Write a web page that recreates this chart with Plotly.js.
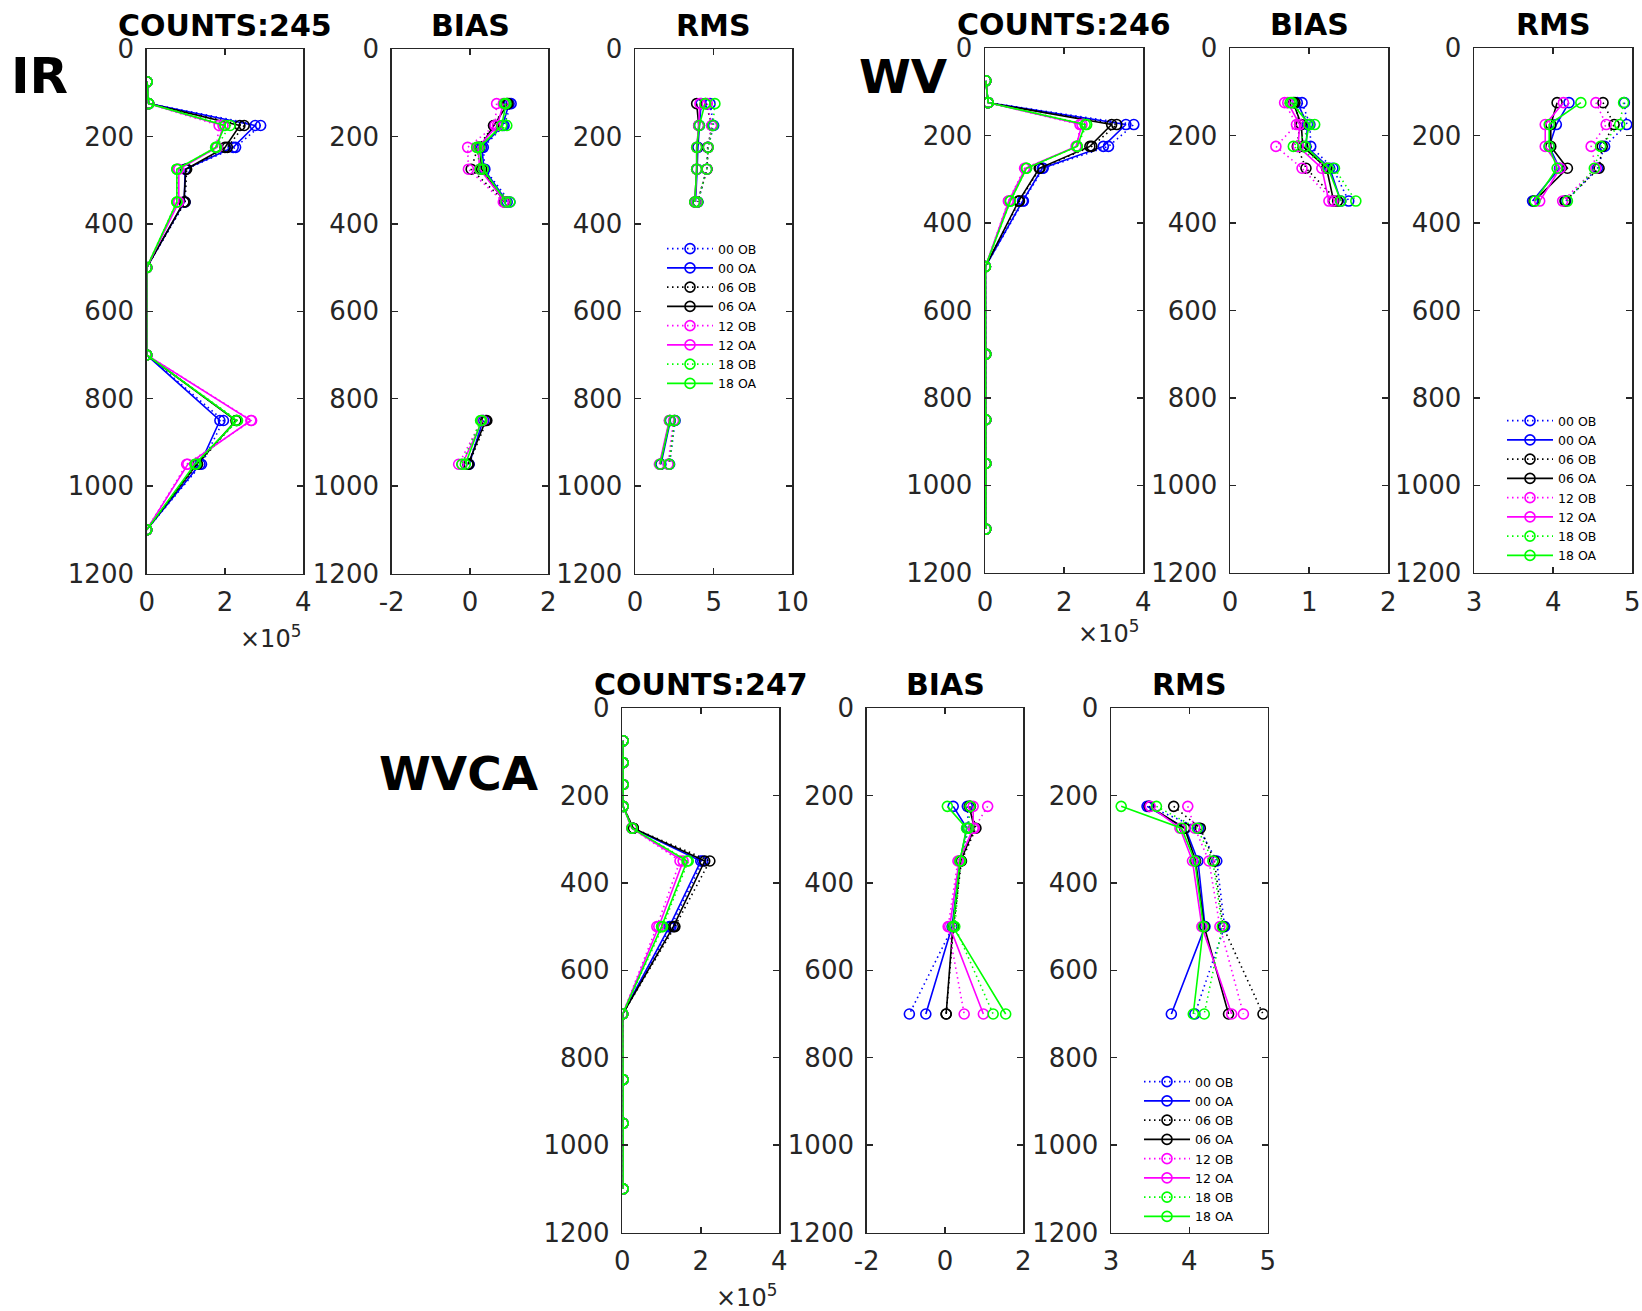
<!DOCTYPE html>
<html><head><meta charset="utf-8">
<script src="https://cdn.plot.ly/plotly-3.0.1.min.js"></script>
<style>html,body{margin:0;padding:0;background:#fff}</style>
</head><body><div id="chart" style="width:1642px;height:1311px"></div>
<script>
const n = null;
// pressure levels (hPa)
const LEVELS = [75,125,175,225,275,350,500,700,850,950,1100];
const SERIES = ["00 OB","00 OA","06 OB","06 OA","12 OB","12 OA","18 OB","18 OA"];

// ---- IR ---- (counts in units of 1e5)
const IR_COUNTS = [
 [0.01,0.05,2.91,2.27,1.00,0.98,0,0,1.96,1.40,0],
 [0.01,0.05,2.77,2.21,0.98,0.96,0,0,1.87,1.36,0],
 [0.01,0.05,2.49,2.06,1.02,0.98,0,0,2.30,1.30,0],
 [0.01,0.05,2.38,2.00,1.00,0.95,0,0,2.28,1.28,0],
 [0.01,0.05,1.85,1.78,0.80,0.80,0,0,2.68,1.02,0],
 [0.01,0.05,1.95,1.80,0.82,0.82,0,0,2.66,1.05,0],
 [0.01,0.05,2.13,1.78,0.77,0.77,0,0,2.32,1.26,0],
 [0.01,0.05,2.00,1.76,0.77,0.77,0,0,2.30,1.23,0]
];
const IR_BIAS = [
 [n,1.05,0.87,0.34,0.38,1.02,n,n,0.35,-0.05,n],
 [n,1.00,0.83,0.30,0.36,0.95,n,n,0.33,-0.02,n],
 [n,0.94,0.60,0.20,0.03,0.90,n,n,0.43,-0.03,n],
 [n,0.97,0.62,0.25,0.30,0.88,n,n,0.40,-0.05,n],
 [n,0.68,0.64,-0.06,-0.04,0.85,n,n,0.30,-0.29,n],
 [n,0.85,0.70,0.20,0.25,0.90,n,n,0.32,-0.20,n],
 [n,0.88,0.94,0.17,0.26,1.02,n,n,0.27,-0.21,n],
 [n,0.92,0.81,0.24,0.34,0.92,n,n,0.30,-0.12,n]
];
const IR_RMS = [
 [n,4.77,5.00,4.65,4.56,4.00,n,n,2.55,2.20,n],
 [n,4.20,4.10,4.00,3.95,3.85,n,n,2.25,1.65,n],
 [n,4.50,4.90,4.62,4.58,3.98,n,n,2.50,2.15,n],
 [n,3.92,4.05,3.95,3.92,3.80,n,n,2.20,1.60,n],
 [n,4.60,4.87,4.66,4.56,3.95,n,n,2.45,2.10,n],
 [n,4.13,4.05,3.92,3.92,3.82,n,n,2.18,1.55,n],
 [n,5.08,4.95,4.66,4.56,3.98,n,n,2.52,2.18,n],
 [n,4.45,4.09,3.92,3.92,3.80,n,n,2.22,1.60,n]
];

// ---- WV ----
const WV_COUNTS = [
 [0.02,0.08,3.76,3.12,1.47,0.97,0.01,0.02,0.02,0.02,0.02],
 [0.02,0.08,3.56,2.99,1.45,0.95,0.01,0.02,0.02,0.02,0.02],
 [0.02,0.08,3.33,2.70,1.39,0.87,0.01,0.02,0.02,0.02,0.02],
 [0.02,0.08,3.20,2.65,1.37,0.85,0.01,0.02,0.02,0.02,0.02],
 [0.02,0.08,2.40,2.33,1.00,0.59,0.01,0.02,0.02,0.02,0.02],
 [0.02,0.08,2.45,2.30,1.02,0.60,0.01,0.02,0.02,0.02,0.02],
 [0.02,0.08,2.57,2.33,1.05,0.64,0.01,0.02,0.02,0.02,0.02],
 [0.02,0.08,2.53,2.33,1.05,0.64,0.01,0.02,0.02,0.02,0.02]
];
const WV_BIAS = [
 [n,0.91,1.01,1.02,1.30,1.50,n,n,n,n,n],
 [n,0.85,0.98,0.96,1.26,1.40,n,n,n,n,n],
 [n,0.82,0.88,0.85,0.96,1.36,n,n,n,n,n],
 [n,0.80,0.90,0.92,1.22,1.31,n,n,n,n,n],
 [n,0.69,0.84,0.58,0.91,1.30,n,n,n,n,n],
 [n,0.73,0.88,0.86,1.16,1.25,n,n,n,n,n],
 [n,0.76,1.07,0.80,1.32,1.59,n,n,n,n,n],
 [n,0.78,1.00,0.95,1.24,1.40,n,n,n,n,n]
];
const WV_RMS = [
 [n,4.90,4.93,4.65,4.56,4.16,n,n,n,n,n],
 [n,4.20,4.04,3.95,4.08,3.74,n,n,n,n,n],
 [n,4.63,4.77,4.62,4.58,4.15,n,n,n,n,n],
 [n,4.05,3.97,3.97,4.18,3.76,n,n,n,n,n],
 [n,4.54,4.67,4.48,4.54,4.12,n,n,n,n,n],
 [n,4.13,3.90,3.90,4.09,3.83,n,n,n,n,n],
 [n,4.89,4.84,4.60,4.52,4.18,n,n,n,n,n],
 [n,4.35,3.95,3.95,4.05,3.77,n,n,n,n,n]
];

// ---- WVCA ----
const WVCA_COUNTS = [
 [0.02,0.02,0.02,0.02,0.26,2.05,1.24,0.01,0.02,0.02,0.02],
 [0.02,0.02,0.02,0.02,0.26,2.00,1.20,0.01,0.02,0.02,0.02],
 [0.02,0.02,0.02,0.02,0.28,2.23,1.34,0.01,0.02,0.02,0.02],
 [0.02,0.02,0.02,0.02,0.28,2.10,1.30,0.01,0.02,0.02,0.02],
 [0.02,0.02,0.02,0.02,0.24,1.47,0.88,0.01,0.02,0.02,0.02],
 [0.02,0.02,0.02,0.02,0.24,1.55,0.93,0.01,0.02,0.02,0.02],
 [0.02,0.02,0.02,0.02,0.25,1.68,1.03,0.01,0.02,0.02,0.02],
 [0.02,0.02,0.02,0.02,0.25,1.65,1.00,0.01,0.02,0.02,0.02]
];
const WVCA_BIAS = [
 [n,n,n,0.57,0.60,0.40,0.20,-0.91,n,n,n],
 [n,n,n,0.21,0.56,0.38,0.18,-0.49,n,n,n],
 [n,n,n,0.65,0.79,0.42,0.22,0.03,n,n,n],
 [n,n,n,0.62,0.75,0.40,0.20,0.03,n,n,n],
 [n,n,n,1.09,0.75,0.33,0.08,0.49,n,n,n],
 [n,n,n,0.72,0.72,0.36,0.12,0.98,n,n,n],
 [n,n,n,0.64,0.60,0.40,0.25,1.23,n,n,n],
 [n,n,n,0.06,0.55,0.38,0.20,1.55,n,n,n]
];
const WVCA_RMS = [
 [n,n,n,3.48,4.12,4.35,4.45,4.07,n,n,n],
 [n,n,n,3.46,3.95,4.11,4.20,3.77,n,n,n],
 [n,n,n,3.80,4.14,4.32,4.43,4.94,n,n,n],
 [n,n,n,3.49,3.94,4.08,4.19,4.50,n,n,n],
 [n,n,n,3.98,4.07,4.25,4.39,4.69,n,n,n],
 [n,n,n,3.50,3.88,4.04,4.16,4.54,n,n,n],
 [n,n,n,3.58,4.10,4.30,4.42,4.19,n,n,n],
 [n,n,n,3.13,3.90,4.07,4.18,4.05,n,n,n]
];

const TITLES = ["COUNTS:245","BIAS","RMS","COUNTS:246","BIAS","RMS","COUNTS:247","BIAS","RMS"];
const GROUP_LABELS = ["IR","WV","WVCA"];
const X_TICKS = [[0,2,4],[-2,0,2],[0,5,10],[0,2,4],[0,1,2],[3,4,5],[0,2,4],[-2,0,2],[3,4,5]];
const Y_TICKS = [0,200,400,600,800,1000,1200];

// ---------- presentation ----------
const W = 1642, H = 1311;
const COLORS = ["#0000ff","#0000ff","#000000","#000000","#ff00ff","#ff00ff","#00ff00","#00ff00"];
const DOTTED = "1.5px,3.5px";
const DASHES = [DOTTED,"solid",DOTTED,"solid",DOTTED,"solid",DOTTED,"solid"];
const DATASETS = [IR_COUNTS, IR_BIAS, IR_RMS, WV_COUNTS, WV_BIAS, WV_RMS, WVCA_COUNTS, WVCA_BIAS, WVCA_RMS];
// panel boxes in px: left, right, top, bottom
const BOXES = [
 [146.7,303.3,49,573.5],[391.7,548.3,49,573.5],[635,792.3,49,573.5],
 [985,1143.3,48,572.8],[1230,1388.3,48,572.8],[1474,1632.3,48,572.8],
 [622.3,779.3,708,1232.6],[866.7,1023.3,708,1232.6],[1111,1267.7,708,1232.6]
];
const LEGEND_OF = {2:"legend",5:"legend2",8:"legend3"};
const FONT = "DejaVu Sans";
const AX = "#262626";

const traces = [];
const layout = {
  width: W, height: H, margin:{l:0,r:0,t:0,b:0},
  paper_bgcolor:"#fff", plot_bgcolor:"#fff", showlegend:true,
  font:{family:FONT, color:AX}, annotations:[]
};

DATASETS.forEach((ds, p) => {
  const k = p === 0 ? "" : String(p+1);
  const [l, r, t, b] = BOXES[p];
  const xt = X_TICKS[p];
  layout["xaxis"+k] = {
    domain:[l/W, r/W], anchor:"y"+k, range:[xt[0], xt[xt.length-1]], autorange:false,
    tickvals: xt, ticktext: xt.map(String),
    showline:true, mirror:"ticks", linecolor:AX, linewidth:1.5,
    ticks:"inside", ticklen:6, tickwidth:1.5, tickcolor:AX,
    showgrid:false, zeroline:false, ticklabelstandoff:5,
    tickfont:{family:FONT, size:26, color:AX}
  };
  layout["yaxis"+k] = {
    domain:[1-b/H, 1-t/H], anchor:"x"+k, range:[1200,0], autorange:false,
    tickvals: Y_TICKS, ticktext: Y_TICKS.map(String),
    showline:true, mirror:"ticks", linecolor:AX, linewidth:1.5,
    ticks:"inside", ticklen:6, tickwidth:1.5, tickcolor:AX,
    showgrid:false, zeroline:false, ticklabelstandoff:6,
    tickfont:{family:FONT, size:26, color:AX}
  };
  ds.forEach((vals, s) => {
    traces.push({
      type:"scatter", mode:"lines+markers", x: vals, y: LEVELS,
      xaxis:"x"+k, yaxis:"y"+k, name: SERIES[s],
      connectgaps:false, cliponaxis:true,
      line:{color:COLORS[s], width:1.6, dash:DASHES[s]},
      marker:{symbol:"circle-open", size:10, color:COLORS[s], line:{width:1.6, color:COLORS[s]}},
      showlegend: LEGEND_OF[p] !== undefined,
      legend: LEGEND_OF[p] || "legend"
    });
  });
  layout.annotations.push({
    text:"<b>"+TITLES[p]+"</b>", xref:"paper", yref:"paper",
    x:(l+r)/2/W, y:1-(t-24)/H, xanchor:"center", yanchor:"middle", showarrow:false,
    font:{family:FONT, size:30, color:"#000"}
  });
});

// group labels
[[39,76],[903,76],[459,773]].forEach((pos,i) => {
  layout.annotations.push({
    text:"<b>"+GROUP_LABELS[i]+"</b>", xref:"paper", yref:"paper",
    x:pos[0]/W, y:1-pos[1]/H, xanchor:"center", yanchor:"middle", showarrow:false,
    font:{family:FONT, size:i===0?50:47, color:"#000"}
  });
});
// exponent labels
[[270,637],[1108,632],[746,1296]].forEach(pos => {
  layout.annotations.push({
    text:"×10<sup>5</sup>", xref:"paper", yref:"paper",
    x:pos[0]/W, y:1-pos[1]/H, xanchor:"center", yanchor:"middle", showarrow:false,
    font:{family:FONT, size:24, color:AX}
  });
});

const legendBase = {xanchor:"left", yanchor:"top", bgcolor:"rgba(0,0,0,0)", borderwidth:0,
  font:{family:FONT, size:12.5, color:"#000"}, itemwidth:46, tracegroupgap:0};
layout.legend  = Object.assign({}, legendBase, {x:(662)/W,  y:1-(234)/H});
layout.legend2 = Object.assign({}, legendBase, {x:(1502)/W, y:1-(406)/H});
layout.legend3 = Object.assign({}, legendBase, {x:(1139)/W, y:1-(1067)/H});

Plotly.newPlot("chart", traces, layout, {staticPlot:true, displayModeBar:false});
</script></body></html>
